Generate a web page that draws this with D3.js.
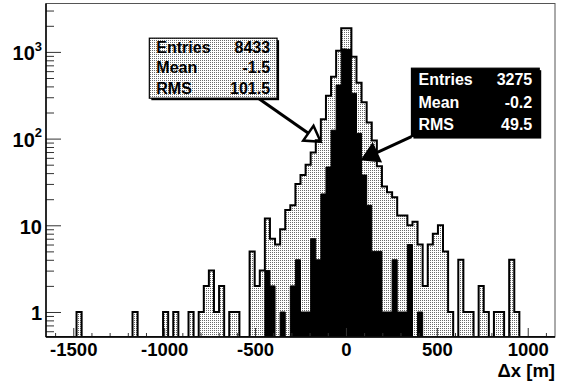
<!DOCTYPE html>
<html>
<head>
<meta charset="utf-8">
<script src="https://cdn.jsdelivr.net/npm/d3@7"></script>
<style>
  html, body { margin: 0; padding: 0; background: #fff; }
  svg { display: block; }
  text { font-family: "Liberation Sans", Arial, Helvetica, sans-serif; font-weight: bold; }
</style>
</head>
<body>
<script>
// Histogram binning: 100 bins of 28 m from -1650 to 1150
const xMin = -1650, xMax = 1150, binWidth = 28;
// Vertical (log) axis range
const yMin = 0.5146, yMax = 3617;

// All entries (dotted histogram), one count per bin
const countsAll = [
  0,0,0,0,0,0,1,0,0,0,      // bins 0-9
  0,0,0,0,0,0,0,1,0,0,      // 10-19
  0,0,0,1,0,1,0,0,1,0,      // 20-29
  1,2,3,1,2,0,1,1,0,0,      // 30-39
  5,2,3,12,7,6,9,15,17,30,  // 40-49
  38,50,69,96,167,312,517,1032,1880,1870, // 50-59
  881,441,262,153,95,48,28,24,21,13,      // 60-69
  13,10,11,6,2,6,8,10,5,1,  // 70-79
  0,4,1,1,0,2,1,0,1,1,      // 80-89
  0,4,1,0,0,0,0,0,0,0       // 90-99
];

// Selected entries (black histogram)
const countsSel = [
  0,0,0,0,0,0,0,0,0,0,
  0,0,0,0,0,0,0,0,0,0,
  0,0,0,0,0,0,0,0,0,0,
  0,0,0,0,0,0,0,0,0,0,
  0,0,0,3,2,0,1,0,2,4,
  1,1,7,4,23,47,125,415,1080,1070,
  333,115,38,17,5,5,1,1,4,1,
  1,6,0,1,0,0,0,0,0,0,
  0,0,0,0,0,0,0,0,0,0,
  0,0,0,0,0,0,0,0,0,0
];

const xMajorTicks = [-1500, -1000, -500, 0, 500, 1000];
const yMajorTicks = [1, 10, 100, 1000];
const xTitle = "\u0394x [m]";

const statsAll = [["Entries", "8433"], ["Mean", "-1.5"], ["RMS", "101.5"]];
const statsSel = [["Entries", "3275"], ["Mean", "-0.2"], ["RMS", "49.5"]];

// ---- layout ----
const W = 564, H = 381;
const frame = { left: 46, right: 555, top: 3.5, bottom: 337 };

const x = d3.scaleLinear().domain([xMin, xMax]).range([frame.left, frame.right]);
const y = d3.scaleLog().domain([yMin, yMax]).range([frame.bottom, frame.top]);

const svg = d3.select("body").append("svg").attr("width", W).attr("height", H);

// stipple fill used by the "all entries" histogram and its stats box
const defs = svg.append("defs");
const pat = defs.append("pattern").attr("id", "stipple")
  .attr("width", 2).attr("height", 2).attr("patternUnits", "userSpaceOnUse");
pat.append("rect").attr("width", 2).attr("height", 2).attr("fill", "#fff");
pat.append("rect").attr("width", 1).attr("height", 1).attr("fill", "#6a6a6a");

defs.append("clipPath").attr("id", "frameClip").append("rect")
  .attr("x", frame.left).attr("y", frame.top)
  .attr("width", frame.right - frame.left).attr("height", frame.bottom - frame.top);

// step outline of a histogram, dropping to the axis floor for empty bins
function stepPoints(counts) {
  const pts = [[x(xMin), frame.bottom]];
  counts.forEach((c, i) => {
    const yy = c > 0 ? y(c) : frame.bottom;
    pts.push([x(xMin + i * binWidth), yy]);
    pts.push([x(xMin + (i + 1) * binWidth), yy]);
  });
  pts.push([x(xMax), frame.bottom]);
  return pts;
}
const line = d3.line();

const plot = svg.append("g").attr("clip-path", "url(#frameClip)");

plot.append("path")
  .attr("d", line(stepPoints(countsAll)) + "Z")
  .attr("fill", "url(#stipple)").attr("stroke", "none");

plot.append("path")
  .attr("d", line(stepPoints(countsSel)) + "Z")
  .attr("fill", "#000").attr("stroke", "#000").attr("stroke-width", 1);

plot.append("path")
  .attr("d", line(stepPoints(countsAll)))
  .attr("fill", "none").attr("stroke", "#000").attr("stroke-width", 2)
  .attr("stroke-linejoin", "miter");

// ---- frame ----
svg.append("rect")
  .attr("x", frame.left).attr("y", frame.top)
  .attr("width", frame.right - frame.left).attr("height", frame.bottom - frame.top)
  .attr("fill", "none").attr("stroke", "#555").attr("stroke-width", 1);

// ---- x axis ----
const xMinor = d3.range(-1600, 1101, 100).filter(v => !xMajorTicks.includes(v));
const gxMinor = svg.append("g").attr("transform", `translate(0,${frame.bottom})`)
  .call(d3.axisBottom(x).tickValues(xMinor).tickSize(-4).tickFormat(""));
const gx = svg.append("g").attr("transform", `translate(0,${frame.bottom})`)
  .call(d3.axisBottom(x).tickValues(xMajorTicks).tickSize(-9).tickPadding(0)
    .tickFormat(d3.format("d")));
[gxMinor, gx].forEach(g => {
  g.select(".domain").remove();
  g.selectAll(".tick line").attr("stroke", "#333");
});
gx.selectAll(".tick text").attr("font-size", 18.5).attr("fill", "#000")
  .attr("font-family", null).attr("y", 18.5).attr("dy", null)
  .text(d => d < 0 ? "-" + Math.abs(d) : String(d));

svg.append("text").attr("x", frame.right).attr("y", 376.5)
  .attr("text-anchor", "end").attr("font-size", 18.5).text(xTitle);

// ---- y axis ----
const yMinor = y.ticks().filter(v => !yMajorTicks.includes(v));
const gyMinor = svg.append("g").attr("transform", `translate(${frame.left},0)`)
  .call(d3.axisLeft(y).tickValues(yMinor).tickSize(-8).tickFormat(""));
const gy = svg.append("g").attr("transform", `translate(${frame.left},0)`)
  .call(d3.axisLeft(y).tickValues(yMajorTicks).tickSize(-15).tickPadding(4).tickFormat(""));
[gyMinor, gy].forEach(g => {
  g.select(".domain").remove();
  g.selectAll(".tick line").attr("stroke", "#333");
});
gy.selectAll(".tick text").each(function (d) {
  const t = d3.select(this).attr("font-size", 20).attr("fill", "#000")
    .attr("font-family", null).attr("dy", "0.4em");
  const exp = Math.round(Math.log10(d));
  if (exp <= 1) { t.text(String(d)); return; }
  t.text(null);
  t.append("tspan").text("10");
  t.append("tspan").attr("font-size", 13).attr("dy", "-0.75em").text(String(exp));
});

// axis lines
svg.append("line").attr("x1", frame.left).attr("x2", frame.left)
  .attr("y1", frame.top).attr("y2", frame.bottom).attr("stroke", "#000").attr("stroke-width", 1.5);
svg.append("line").attr("x1", frame.left).attr("x2", frame.right)
  .attr("y1", frame.bottom).attr("y2", frame.bottom).attr("stroke", "#000").attr("stroke-width", 1.5);

// ---- stats boxes with pointer arrows ----
// box extents as fractions of the frame, arrow tips in data coordinates
const fx = f => frame.left + f * (frame.right - frame.left);
const fy = f => frame.top + f * (frame.bottom - frame.top);

function statsBox(rows, box, style) {
  const x0 = fx(box.x0), x1 = fx(box.x1), y0 = fy(box.y0), y1 = fy(box.y1);
  const g = svg.append("g");
  g.append("rect").attr("x", x0 + 2).attr("y", y0 + 2)
    .attr("width", x1 - x0).attr("height", y1 - y0).attr("fill", "#000");
  g.append("rect").attr("x", x0).attr("y", y0)
    .attr("width", x1 - x0).attr("height", y1 - y0)
    .attr("fill", style.fill).attr("stroke", "#000").attr("stroke-width", 1.2);
  const rowH = (y1 - y0) / rows.length;
  rows.forEach((r, i) => {
    const by = y0 + rowH * (i + 0.5) + 5.3;
    g.append("text").attr("x", x0 + 7).attr("y", by).attr("font-size", 16)
      .attr("fill", style.text).text(r[0]);
    g.append("text").attr("x", x1 - 7).attr("y", by).attr("font-size", 16)
      .attr("text-anchor", "end").attr("fill", style.text).text(r[1]);
  });
}

function arrow(from, tipData, head) {
  const tx = x(tipData[0]), ty = y(tipData[1]);
  const dx = tx - from[0], dy = ty - from[1];
  const len = Math.hypot(dx, dy), ux = dx / len, uy = dy / len;
  const L = 15, Wd = 9;
  const bx = tx - ux * L, by = ty - uy * L;
  svg.append("line").attr("x1", from[0]).attr("y1", from[1]).attr("x2", bx).attr("y2", by)
    .attr("stroke", "#000").attr("stroke-width", 3);
  const tri = [[tx, ty], [bx - uy * Wd, by + ux * Wd], [bx + uy * Wd, by - ux * Wd]];
  svg.append("path").attr("d", d3.line()(tri) + "Z")
    .attr("fill", head === "open" ? "none" : "#000")
    .attr("stroke", "#000").attr("stroke-width", 2.5).attr("stroke-linejoin", "miter");
}

const boxAll = { x0: 0.203, x1: 0.454, y0: 0.104, y1: 0.284 };
const boxSel = { x0: 0.718, x1: 0.969, y0: 0.194, y1: 0.399 };

arrow([fx(0.417), fy(boxAll.y1)], [-139, 92], "open");
arrow([fx(boxSel.x0), fy(boxSel.y1)], [92, 58], "filled");

statsBox(statsAll, boxAll, { fill: "url(#stipple)", text: "#000" });
statsBox(statsSel, boxSel, { fill: "#000", text: "#fff" });
</script>
</body>
</html>
